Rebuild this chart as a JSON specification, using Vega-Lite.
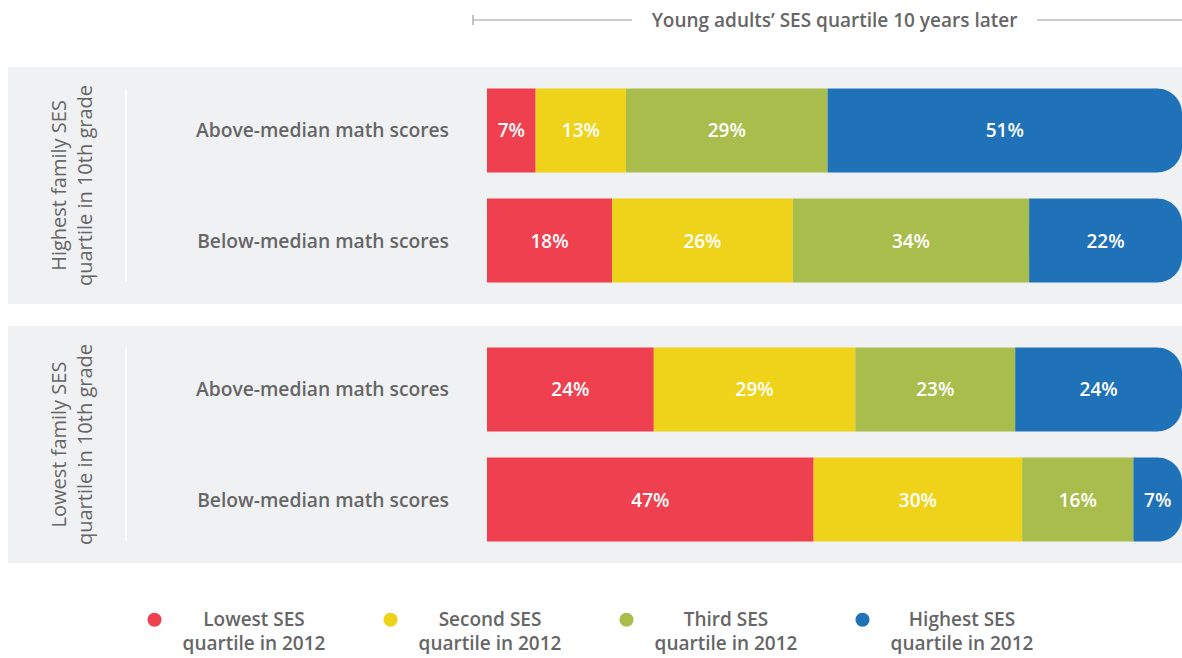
{
  "$schema": "https://vega.github.io/schema/vega-lite/v6.json",
  "padding": {"left": 8, "top": 0, "right": 0, "bottom": 0},
  "autosize": {"type": "pad"},
  "background": "white",
  "bounds": "flush",
  "config": {"view": {"stroke": null}, "font": "Open Sans"},
  "spacing": 27,
  "datasets": {
    "header": [{"label": "Young adults’ SES quartile 10 years later"}],
    "bars": [
      {"group": "Highest family SES quartile in 10th grade", "math": "Above-median math scores", "quartile": 1, "ses": "Lowest SES quartile in 2012", "share": 0.07},
      {"group": "Highest family SES quartile in 10th grade", "math": "Above-median math scores", "quartile": 2, "ses": "Second SES quartile in 2012", "share": 0.13},
      {"group": "Highest family SES quartile in 10th grade", "math": "Above-median math scores", "quartile": 3, "ses": "Third SES quartile in 2012", "share": 0.29},
      {"group": "Highest family SES quartile in 10th grade", "math": "Above-median math scores", "quartile": 4, "ses": "Highest SES quartile in 2012", "share": 0.51},
      {"group": "Highest family SES quartile in 10th grade", "math": "Below-median math scores", "quartile": 1, "ses": "Lowest SES quartile in 2012", "share": 0.18},
      {"group": "Highest family SES quartile in 10th grade", "math": "Below-median math scores", "quartile": 2, "ses": "Second SES quartile in 2012", "share": 0.26},
      {"group": "Highest family SES quartile in 10th grade", "math": "Below-median math scores", "quartile": 3, "ses": "Third SES quartile in 2012", "share": 0.34},
      {"group": "Highest family SES quartile in 10th grade", "math": "Below-median math scores", "quartile": 4, "ses": "Highest SES quartile in 2012", "share": 0.22},
      {"group": "Lowest family SES quartile in 10th grade", "math": "Above-median math scores", "quartile": 1, "ses": "Lowest SES quartile in 2012", "share": 0.24},
      {"group": "Lowest family SES quartile in 10th grade", "math": "Above-median math scores", "quartile": 2, "ses": "Second SES quartile in 2012", "share": 0.29},
      {"group": "Lowest family SES quartile in 10th grade", "math": "Above-median math scores", "quartile": 3, "ses": "Third SES quartile in 2012", "share": 0.23},
      {"group": "Lowest family SES quartile in 10th grade", "math": "Above-median math scores", "quartile": 4, "ses": "Highest SES quartile in 2012", "share": 0.24},
      {"group": "Lowest family SES quartile in 10th grade", "math": "Below-median math scores", "quartile": 1, "ses": "Lowest SES quartile in 2012", "share": 0.47},
      {"group": "Lowest family SES quartile in 10th grade", "math": "Below-median math scores", "quartile": 2, "ses": "Second SES quartile in 2012", "share": 0.30},
      {"group": "Lowest family SES quartile in 10th grade", "math": "Below-median math scores", "quartile": 3, "ses": "Third SES quartile in 2012", "share": 0.16},
      {"group": "Lowest family SES quartile in 10th grade", "math": "Below-median math scores", "quartile": 4, "ses": "Highest SES quartile in 2012", "share": 0.07}
    ]
  },
  "vconcat": [
    {
      "width": 1174,
      "height": 40,
      "data": {"name": "header"},
      "layer": [
        {
          "mark": {"type": "rule", "color": "#9b9b9b", "strokeWidth": 1.2},
          "encoding": {
            "x": {"datum": -0.0201, "type": "quantitative", "scale": {"domain": [0, 1], "range": [479, 1174], "nice": false, "zero": false}, "axis": null},
            "x2": {"datum": 0.2086}
          }
        },
        {
          "mark": {"type": "rule", "color": "#9b9b9b", "strokeWidth": 1.2},
          "encoding": {"x": {"datum": 0.7914, "type": "quantitative"}, "x2": {"datum": 1.0}}
        },
        {
          "mark": {"type": "tick", "orient": "vertical", "size": 10, "thickness": 1.2, "color": "#9b9b9b", "opacity": 1},
          "encoding": {"x": {"datum": -0.0201, "type": "quantitative"}}
        },
        {
          "mark": {"type": "text", "fontSize": 19, "fontWeight": 600, "color": "#666666", "baseline": "middle", "align": "center", "dy": 1},
          "encoding": {"x": {"datum": 0.5, "type": "quantitative"}, "text": {"field": "label"}}
        }
      ]
    },
    {
      "width": 1174,
      "height": 496,
      "data": {"name": "bars"},
      "transform": [
        {"stack": "share", "groupby": ["group", "math"], "sort": [{"field": "quartile", "order": "ascending"}], "as": ["x0", "x1"]}
      ],
      "encoding": {
        "y": {
          "field": "group",
          "type": "nominal",
          "title": null,
          "scale": {"domain": ["Highest family SES quartile in 10th grade", "Lowest family SES quartile in 10th grade"], "paddingInner": 0.0849, "paddingOuter": 0},
          "axis": {
            "zindex": 2,
            "domain": false,
            "ticks": false,
            "tickSize": 0,
            "labelAngle": 270,
            "labelAlign": "center",
            "labelBaseline": "bottom",
            "labelPadding": 0,
            "offset": -61,
            "labelFontSize": 20,
            "labelColor": "#666666",
            "labelFontWeight": 400,
            "labelLineHeight": 26,
            "labelLimit": 400,
            "labelExpr": "[replace(datum.label, ' quartile in 10th grade', ''), 'quartile in 10th grade']"
          }
        }
      },
      "layer": [
        {
          "mark": {"type": "bar", "color": "#f0f1f3"},
          "encoding": {}
        },
        {
          "transform": [{"filter": "datum.quartile == 1"}],
          "mark": {"type": "bar", "color": "#ffffff", "height": {"band": 0.81}},
          "encoding": {
            "x": {"datum": -0.5209, "type": "quantitative", "scale": {"domain": [0, 1], "range": [479, 1174], "nice": false, "zero": false}, "axis": null},
            "x2": {"datum": -0.5180}
          }
        },
        {
          "transform": [{"filter": "datum.quartile < 4"}],
          "mark": {"type": "bar"},
          "encoding": {
            "x": {"field": "x0", "type": "quantitative"},
            "x2": {"field": "x1"},
            "yOffset": {"field": "math", "type": "nominal", "scale": {"domain": ["Above-median math scores", "Below-median math scores"], "paddingInner": 0.236, "paddingOuter": 0.195}},
            "color": {
              "field": "ses",
              "type": "nominal",
              "scale": {
                "domain": ["Lowest SES quartile in 2012", "Second SES quartile in 2012", "Third SES quartile in 2012", "Highest SES quartile in 2012"],
                "range": ["#ef404f", "#eed31a", "#a9bd4c", "#1f71b8"]
              },
              "legend": {
                "title": null,
                "orient": "none",
                "legendX": 137,
                "legendY": 610,
                "direction": "horizontal",
                "columns": 4,
                "symbolType": "circle",
                "symbolSize": 200,
                "symbolStrokeWidth": 0,
                "labelAlign": "center",
                "labelBaseline": "middle",
                "labelOffset": 90,
                "labelFontSize": 19,
                "labelFontWeight": 600,
                "labelColor": "#666666",
                "labelLimit": 400,
                "columnPadding": 55,
                "labelExpr": "[replace(datum.label, ' quartile in 2012', ''), 'quartile in 2012']",
                "encode": {"labels": {"update": {"lineHeight": {"value": 24}}}}
              }
            }
          }
        },
        {
          "transform": [{"filter": "datum.quartile == 4"}],
          "mark": {"type": "bar", "cornerRadiusTopRight": 25, "cornerRadiusBottomRight": 25},
          "encoding": {
            "x": {"field": "x0", "type": "quantitative"},
            "x2": {"field": "x1"},
            "yOffset": {"field": "math", "type": "nominal"},
            "color": {"field": "ses", "type": "nominal"}
          }
        },
        {
          "mark": {"type": "text", "color": "#ffffff", "fontSize": 19, "fontWeight": 600, "align": "center", "baseline": "middle", "dy": 1},
          "encoding": {
            "x": {"field": "share", "type": "quantitative", "stack": "zero", "bandPosition": 0.5},
            "yOffset": {"field": "math", "type": "nominal"},
            "detail": {"field": "quartile", "type": "ordinal"},
            "order": {"field": "quartile", "type": "quantitative", "sort": "ascending"},
            "text": {"field": "share", "type": "quantitative", "format": ".0%"}
          }
        },
        {
          "transform": [{"filter": "datum.quartile == 1"}],
          "mark": {"type": "text", "color": "#666666", "fontSize": 19.25, "fontWeight": 600, "align": "right", "baseline": "middle", "dy": 1},
          "encoding": {
            "x": {"datum": -0.0547, "type": "quantitative"},
            "yOffset": {"field": "math", "type": "nominal"},
            "text": {"field": "math", "type": "nominal"}
          }
        }
      ]
    }
  ],
  "resolve": {"scale": {"x": "independent"}}
}
